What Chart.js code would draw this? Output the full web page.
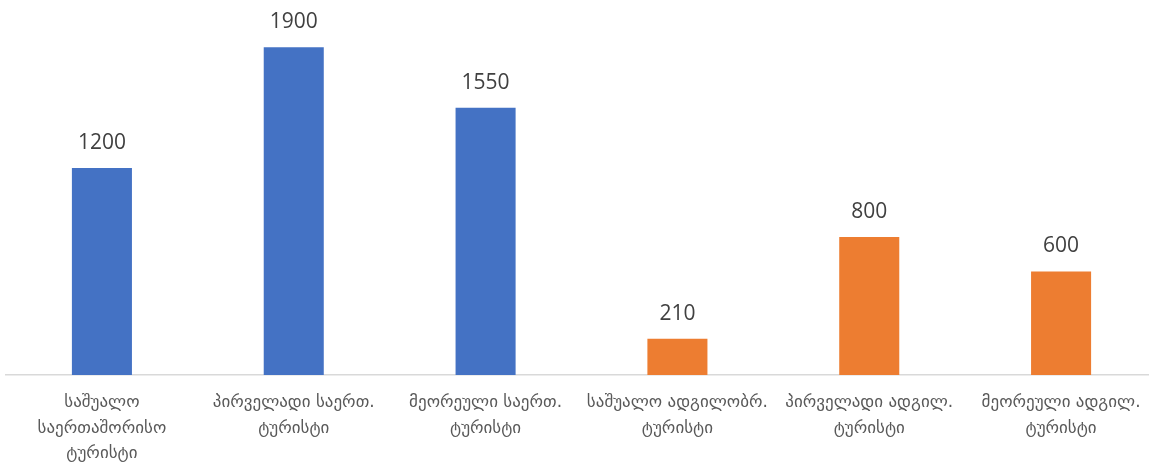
<!DOCTYPE html>
<html>
<head>
<meta charset="utf-8">
<script src="https://cdn.jsdelivr.net/npm/chart.js@4.4.1/dist/chart.umd.min.js"></script>
<style>
  html, body { margin: 0; padding: 0; background: #fff; }
  #wrap { width: 1149px; height: 462px; }
</style>
</head>
<body>
<div id="wrap"><canvas id="myChart"></canvas></div>
<script>
// tourist categories (international first, then domestic)
var categories = [
    ['საშუალო', 'საერთაშორისო', 'ტურისტი'],
    ['პირველადი საერთ.', 'ტურისტი'],
    ['მეორეული საერთ.', 'ტურისტი'],
    ['საშუალო ადგილობრ.', 'ტურისტი'],
    ['პირველადი ადგილ.', 'ტურისტი'],
    ['მეორეული ადგილ.', 'ტურისტი']
];
var values = [1200, 1900, 1550, 210, 800, 600];
var barColors = ['#4472c4', '#4472c4', '#4472c4', '#ed7d31', '#ed7d31', '#ed7d31'];

// the category axis runs a little past the right edge of the canvas
var widenAxis = {
    id: 'widenAxis',
    afterLayout: function (chart) {
        var x = chart.scales.x;
        x.right = x.left + 1151;
        x.width = 1151;
        x.configure();
    }
};

// writes each value above its bar
var valueLabels = {
    id: 'valueLabels',
    afterDatasetsDraw: function (chart) {
        var ctx = chart.ctx;
        var meta = chart.getDatasetMeta(0);
        ctx.save();
        ctx.font = '21px "Open Sans", "Liberation Sans", sans-serif';
        ctx.fillStyle = '#404040';
        ctx.textAlign = 'center';
        ctx.textBaseline = 'middle';
        meta.data.forEach(function (bar, i) {
            ctx.fillText(values[i], bar.x, bar.y - 25);
        });
        ctx.restore();
    }
};

var chart = new Chart(document.getElementById('myChart'), {
    type: 'bar',
    data: {
        labels: categories,
        datasets: [{
            data: values,
            backgroundColor: barColors,
            categoryPercentage: 1,
            barPercentage: 0.313
        }]
    },
    options: {
        responsive: true,
        maintainAspectRatio: false,
        animation: false,
        layout: { padding: { top: 30, left: 6, right: 0, bottom: 0 } },
        plugins: { legend: { display: false }, tooltip: { enabled: false } },
        scales: {
            x: {
                grid: { display: false, drawTicks: false },
                border: { color: '#d9d9d9', width: 1.5 },
                ticks: {
                    color: '#595959',
                    font: { family: '"DejaVu Sans", sans-serif', size: 17, lineHeight: 1.5 },
                    padding: 15,
                    maxRotation: 0,
                    autoSkip: false
                },
                afterFit: function (scale) { scale.height = 87; }
            },
            y: {
                display: false,
                min: 0,
                max: 2000
            }
        }
    },
    plugins: [widenAxis, valueLabels]
});
</script>
</body>
</html>
